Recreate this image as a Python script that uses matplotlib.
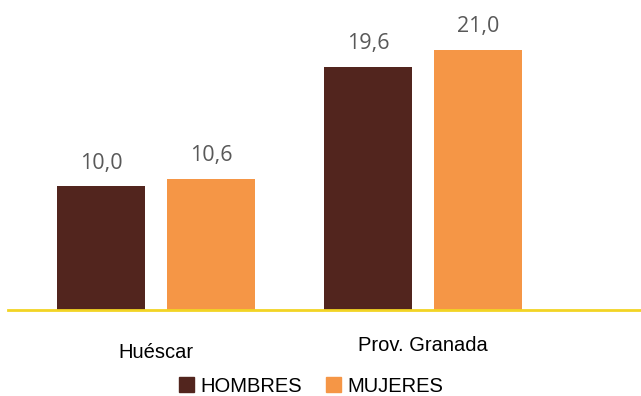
import matplotlib
matplotlib.use("Agg")
import matplotlib.pyplot as plt
import numpy as np
from matplotlib.transforms import ScaledTranslation
from matplotlib.patches import Patch

categories = ["Huéscar", "Prov. Granada"]
series_names = ["HOMBRES", "MUJERES"]
hombres = [10.0, 19.6]
mujeres = [10.6, 21.0]
colors = ["#52251E", "#F59646"]

fig = plt.figure(figsize=(6.41, 3.96), dpi=100)
ax = fig.add_axes([8/641, 86/396, 633/641, 310/396])

x = np.arange(len(categories))
w = 0.33
off = 0.206
for vals, c, o, name in [(hombres, colors[0], -off, series_names[0]), (mujeres, colors[1], off, series_names[1])]:
    bars = ax.bar(x + o, vals, width=w, color=c, label=name)
    for b, v in zip(bars, vals):
        ax.annotate(f"{v:.1f}".replace(".", ","), (b.get_x() + b.get_width()/2, v),
                    xytext=(0, 9), textcoords="offset points", ha="center", va="bottom",
                    fontsize=15.5, color="#595959", family="Open Sans")

ax.set_xlim(-0.554, 1.816)
ax.set_ylim(0, 25)
for s in ["top", "right", "left"]:
    ax.spines[s].set_visible(False)
ax.spines["bottom"].set_color("#F2D424")
ax.spines["bottom"].set_linewidth(2)
ax.set_yticks([])
ax.set_xticks(x)
ax.set_xticklabels(categories, fontsize=14.5, family="Liberation Sans", color="#000000")
ax.tick_params(axis="x", length=0, pad=24)
labs = ax.get_xticklabels()
labs[1].set_transform(labs[1].get_transform() + ScaledTranslation(0, 7/100, fig.dpi_scale_trans))

handles = [Patch(color=colors[0]), Patch(color=colors[1])]
fig.legend(handles, series_names, loc="center", bbox_to_anchor=(311/641, 1 - 386/396),
           ncol=2, frameon=False, prop={"family": "Liberation Sans", "size": 14.5},
           handlelength=0.75, handleheight=0.75, handletextpad=0.3, columnspacing=1.2,
           borderpad=0)

fig.savefig("out.png", dpi=100)
